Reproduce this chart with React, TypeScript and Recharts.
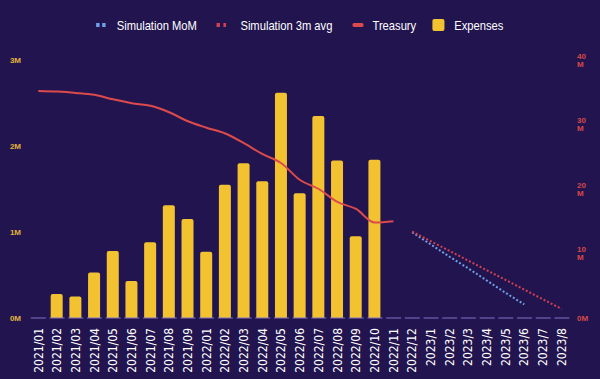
import React from 'react';
import { ComposedChart, Bar, Line, XAxis, YAxis, Legend } from 'recharts';

const categories = [
  '2021/01', '2021/02', '2021/03', '2021/04', '2021/05', '2021/06', '2021/07', '2021/08', '2021/09',
  '2022/01', '2022/02', '2022/03', '2022/04', '2022/05', '2022/06', '2022/07', '2022/08', '2022/09',
  '2022/10', '2022/11', '2022/12',
  '2023/1', '2023/2', '2023/3', '2023/4', '2023/5', '2023/6', '2023/7', '2023/8',
];

// Expenses in millions (left axis)
const expenses = [
  0, 0.28, 0.25, 0.53, 0.78, 0.43, 0.88, 1.31, 1.15,
  0.77, 1.55, 1.80, 1.59, 2.62, 1.45, 2.35, 1.83, 0.95,
  1.84, null, null,
  null, null, null, null, null, null, null, null,
];

// Treasury in millions (right axis)
const treasury = [
  35.2, 35.1, 34.9, 34.6, 33.9, 33.3, 32.9, 31.9, 30.5,
  29.5, 28.6, 27.1, 25.4, 24.0, 21.4, 20.0, 18.0, 16.9,
  14.8, 15.0, null,
  null, null, null, null, null, null, null, null,
];

const simulationMoM = [
  null, null, null, null, null, null, null, null, null,
  null, null, null, null, null, null, null, null, null,
  null, null, 13.3,
  11.4, 9.5, 7.7, 5.8, 3.9, 2.1, null, null,
];

const simulation3m = [
  null, null, null, null, null, null, null, null, null,
  null, null, null, null, null, null, null, null, null,
  null, null, 13.4,
  11.9, 10.4, 8.9, 7.4, 5.9, 4.4, 2.9, 1.4,
];

const leftTicks = [0, 1, 2, 3];
const rightTicks = [0, 10, 20, 30, 40];

const data = categories.map((c, i) => ({
  month: c,
  expenses: expenses[i],
  treasury: treasury[i],
  simMoM: simulationMoM[i],
  sim3m: simulation3m[i],
}));

const BG = '#22154f';
const YELLOW = '#f2c230';
const RED = '#dc4a4c';
const SIM_RED = '#d2404f';
const SIM_BLUE = '#6f9fe6';
const AXIS_YELLOW = '#e3b33c';
const AXIS_RED = '#d64848';
const NARROW = "'Liberation Sans Narrow', 'DejaVu Sans Condensed', 'Arial Narrow', Arial, sans-serif";
const SANS = "'Liberation Sans', Arial, sans-serif";

const XTick = (props: any) => {
  const { x, y, payload } = props;
  return (
    <text
      x={x}
      y={y}
      transform={`rotate(-90 ${x} ${y})`}
      textAnchor="end"
      dy="0.35em"
      fill="#ffffff"
      fontSize={12}
      fontFamily={NARROW}
    >
      {payload.value}
    </text>
  );
};

const LeftTick = (props: any) => {
  const { x, y, payload } = props;
  return (
    <text x={x} y={y} dy="0.35em" textAnchor="end" fill={AXIS_YELLOW} fontSize={8} fontWeight="bold" fontFamily="Arial, sans-serif">
      {`${payload.value}M`}
    </text>
  );
};

const RightTick = (props: any) => {
  const { x, y, payload } = props;
  if (payload.value === 0) {
    return (
      <text x={x} y={y} dy="0.35em" textAnchor="start" fill={AXIS_RED} fontSize={8} fontWeight="bold" fontFamily="Arial, sans-serif">
        0M
      </text>
    );
  }
  return (
    <text x={x} y={y} textAnchor="start" fill={AXIS_RED} fontSize={8} fontWeight="bold" fontFamily="Arial, sans-serif">
      <tspan x={x} dy="-1.2">{payload.value}</tspan>
      <tspan x={x} dy="8">M</tspan>
    </text>
  );
};

const Dots = ({ color, gapAfter }: { color: string; gapAfter: number }) => (
  <span style={{ display: 'inline-flex', gap: 3.5, alignItems: 'center', marginRight: gapAfter }}>
    <span style={{ width: 3.8, height: 3.5, background: color, display: 'inline-block' }} />
    <span style={{ width: 3.8, height: 3.5, background: color, display: 'inline-block' }} />
  </span>
);

const LegendContent = () => (
  <div style={{ display: 'flex', justifyContent: 'center', width: 600, height: 24 }}>
    <div
      style={{
        display: 'flex',
        alignItems: 'center',
        height: 24,
        fontFamily: SANS,
        fontSize: 13,
        color: '#ffffff',
        whiteSpace: 'nowrap',
        transform: 'scaleX(0.86)',
        transformOrigin: 'center',
      }}
    >
      <span style={{ display: 'inline-flex', alignItems: 'center', marginRight: 23.3 }}>
        <Dots color={SIM_BLUE} gapAfter={12.8} />
        <span>Simulation MoM</span>
      </span>
      <span style={{ display: 'inline-flex', alignItems: 'center', marginRight: 23.3 }}>
        <Dots color={SIM_RED} gapAfter={16.3} />
        <span>Simulation 3m avg</span>
      </span>
      <span style={{ display: 'inline-flex', alignItems: 'center', marginRight: 18.6 }}>
        <span style={{ width: 12.8, height: 4, background: RED, borderRadius: 2, display: 'inline-block', marginRight: 10.5 }} />
        <span>Treasury</span>
      </span>
      <span style={{ display: 'inline-flex', alignItems: 'center' }}>
        <span style={{ width: 14, height: 12, background: YELLOW, borderRadius: 2, display: 'inline-block', marginRight: 11.6 }} />
        <span>Expenses</span>
      </span>
    </div>
  </div>
);

export default function App() {
  return (
    <div style={{ position: 'absolute', left: 0, top: 0, width: 600, height: 379, background: BG }}>
      <ComposedChart width={600} height={379} data={data} margin={{ top: 36, right: 0, left: 0, bottom: 0 }}>
        <XAxis
          dataKey="month"
          interval={0}
          height={61}
          tickLine={false}
          tickSize={0}
          tickMargin={10}
          tick={<XTick />}
          axisLine={{ stroke: '#7f72c8', strokeWidth: 1, strokeDasharray: '0 1.85 15 1.85' }}
        />
        <YAxis
          yAxisId="left"
          orientation="left"
          width={29}
          domain={[0, 3]}
          ticks={leftTicks}
          axisLine={false}
          tickLine={false}
          tickSize={0}
          tickMargin={8}
          tick={<LeftTick />}
        />
        <YAxis
          yAxisId="right"
          orientation="right"
          width={29}
          domain={[0, 40]}
          ticks={rightTicks}
          axisLine={false}
          tickLine={false}
          tickSize={0}
          tickMargin={6}
          tick={<RightTick />}
        />
        <Legend verticalAlign="top" content={<LegendContent />} wrapperStyle={{ top: 13, left: 0, width: 600 }} />
        <Bar yAxisId="left" dataKey="expenses" fill={YELLOW} barSize={12} radius={[2, 2, 0, 0]} isAnimationActive={false} />
        <Line yAxisId="right" dataKey="treasury" type="monotone" stroke={RED} strokeWidth={2} dot={false} isAnimationActive={false} />
        <Line yAxisId="right" dataKey="simMoM" type="linear" stroke={SIM_BLUE} strokeWidth={2} strokeDasharray="2 2" dot={false} isAnimationActive={false} />
        <Line yAxisId="right" dataKey="sim3m" type="linear" stroke={SIM_RED} strokeWidth={2} strokeDasharray="2 2" dot={false} isAnimationActive={false} />
      </ComposedChart>
    </div>
  );
}
